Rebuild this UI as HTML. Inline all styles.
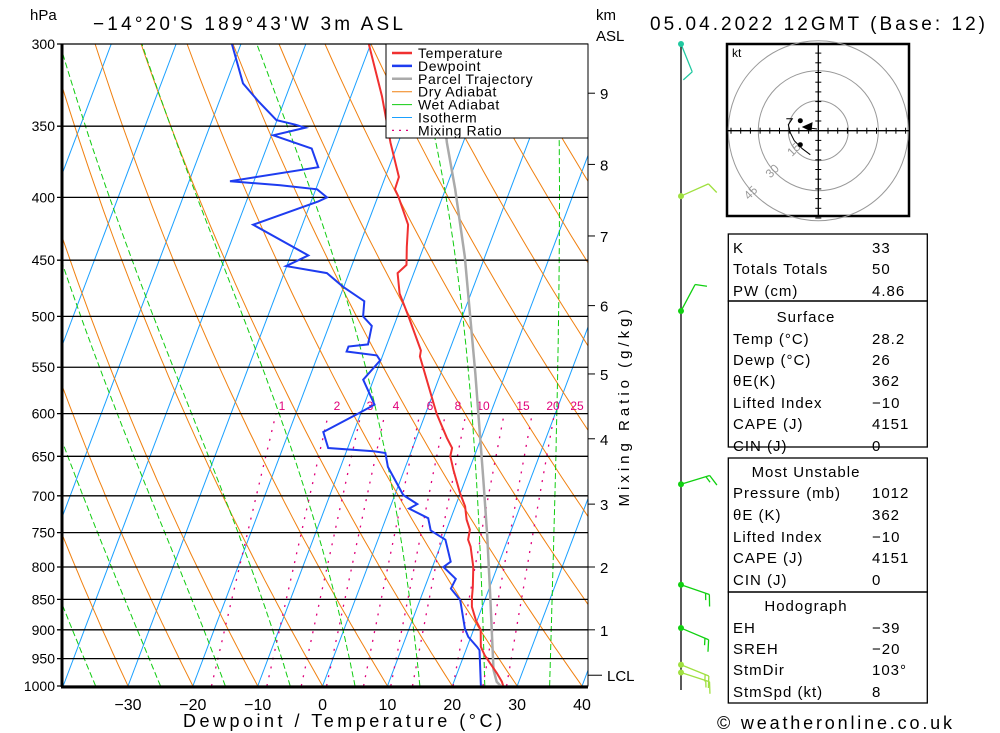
<!DOCTYPE html>
<html><head><meta charset="utf-8"><style>
html,body{margin:0;padding:0;background:#fff;}
svg{display:block;font-family:"Liberation Sans",sans-serif;}
.t{font-size:15px;fill:#000;letter-spacing:1px;}
</style></head><body>
<svg id="svg" width="1000" height="733" viewBox="0 0 1000 733" xmlns="http://www.w3.org/2000/svg">
<defs><clipPath id="pc"><rect x="62" y="44" width="526" height="642"/></clipPath></defs>
<g id="bg" clip-path="url(#pc)"></g>
<g id="grid"></g>
<g id="prof" clip-path="url(#pc)"></g>
<g>
<rect x="386" y="44" width="202" height="94" fill="#fff" stroke="#000" stroke-width="1"/>
<g id="leg"></g>
</g>
<rect x="62" y="44" width="526" height="642" fill="none" stroke="#000" stroke-width="1"/>
<line x1="62" y1="44" x2="62" y2="687" stroke="#000" stroke-width="3"/>
<line x1="61" y1="687" x2="588" y2="687" stroke="#000" stroke-width="3"/>
<text x="30" y="20" font-size="15">hPa</text>
<text x="93" y="30" font-size="19" textLength="310">−14°20'S 189°43'W 3m ASL</text>
<text x="650" y="30" font-size="19" textLength="335">05.04.2022 12GMT (Base: 12)</text>
<text x="596" y="20" font-size="15">km</text>
<text x="596" y="41" font-size="15">ASL</text>
<text x="183" y="727" font-size="18" textLength="319">Dewpoint / Temperature (°C)</text>
<text x="717" y="729" font-size="18" textLength="235">© weatheronline.co.uk</text>
<text transform="translate(629,408) rotate(-90)" text-anchor="middle" font-size="15" textLength="197">Mixing Ratio (g/kg)</text>
<g id="axes"></g>
<g id="wind"></g>
<g id="hodo"></g>
<g id="table"></g>
</svg>
<script>
const tempP=[1008,992,976,944,929,900,884,862,848,831,800,770,760,746,732,714,696,667,650,640,628,600,562,539,533,500,479,461,454,439,421,399,394,385,361,331,300];
const tempT=[28.3,27.4,26.1,23.2,22.1,21.1,19.8,18.4,17.9,17.4,16.3,14.7,13.9,13.6,12.5,11.5,9.9,7.6,6.3,6.1,4.7,1.7,-1.9,-4.2,-4.4,-8.3,-11.0,-12.5,-11.6,-12.6,-13.7,-16.9,-17.8,-17.9,-21.2,-25.2,-30.3];
const dewP=[1012,1000,935,929,912,898,851,833,818,800,792,760,747,730,717,711,699,663,646,644,640,621,599,590,563,543,538,534,529,527,509,500,486,473,461,455,446,421,403,400,394,391,388,378,365,356,351,349,346,334,323,300];
const dewT=[26.0,24.4,22.1,21.5,19.6,18.6,16.2,14.1,14.3,11.7,12.5,10.4,7.6,6.5,3.0,4.0,1.3,-2.7,-3.9,-5.8,-13.0,-14.7,-10.2,-8.4,-11.6,-10.1,-10.9,-15.8,-15.8,-12.9,-13.4,-15.3,-16.0,-20.1,-23.4,-30.1,-27.3,-37.6,-28.9,-27.8,-29.8,-35.7,-43.7,-30.9,-33.0,-39.7,-35.2,-36.9,-40.1,-44.0,-47.4,-51.4];
const parcelP=[1008,992,970,840,756,680,619,556,447,394,361,300];
const parcelT=[28.3,26.6,25.4,20.4,16.7,12.8,9.3,5.3,-3.1,-8.5,-12.5,-20.0];
const pLevels=[300,350,400,450,500,550,600,650,700,750,800,850,900,950,1000];
const tTicks=[-30,-20,-10,0,10,20,30,40];
const kmTicks=[9,8,7,6,5,4,3,2,1];
const kmP=[329,376,430,490,557,629,711,800,900];
const lclP=980;
const mixW=[1,2,3,4,6,8,10,15,20,25];
const mixLabelX=[282,337,370,396,430,458,483,523,553,577];
const barbP=[300,399,495,685,827,897,961,975];
const barbDir=[158,66,28,73,109,113,112,108];
const barbSpd=[10,10,10,15,15,15,15,15];
const barbCol=["#20c8a0","#a0e040","#10d010","#10d010","#10d010","#10d010","#a0e040","#a0e040"];
const hodoU=[-16,-13,-15,-14,-12,-8,-4];
const hodoV=[6,6,3,-1,-5,-9,-12];
const rows=[["K","33",247],["Totals Totals","50",268],["PW (cm)","4.86",290],["Surface","",316],["Temp (°C)","28.2",338],["Dewp (°C)","26",359],["θE(K)","362",380],["Lifted Index","−10",402],["CAPE (J)","4151",423],["CIN (J)","0",445],["Most Unstable","",471],["Pressure (mb)","1012",492],["θE (K)","362",514],["Lifted Index","−10",536],["CAPE (J)","4151",557],["CIN (J)","0",579],["Hodograph","",605],["EH","−39",627],["SREH","−20",648],["StmDir","103°",669],["StmSpd (kt)","8",691]];

const NS="http://www.w3.org/2000/svg";
function yP(p){return 44+Math.log(p/300)/Math.log(1000/300)*642;}
function xT(T,p){return 322.6+6.486*T+0.378*(686-yP(p));}
function mk(tag,at,par){const e=document.createElementNS(NS,tag);for(const k in at)e.setAttribute(k,at[k]);par.appendChild(e);return e;}
function pts(ps,ts){return ps.map((p,i)=>xT(ts[i],p).toFixed(1)+","+yP(p).toFixed(1)).join(" ");}
const bg=document.getElementById('bg');
for(let T=-120;T<=40;T+=10){const l=mk('line',{x1:xT(T,1000),y1:yP(1000),x2:xT(T,300),y2:yP(300),stroke:'#1aa0ff','stroke-width':1},bg);
}
const ps=[];for(let p=1000;p>=300;p-=10)ps.push(p);
for(let th=203.15;th<=503.15;th+=10){const ts=ps.map(p=>th*Math.pow(p/1000,0.286)-273.15);
const l=mk('polyline',{points:pts(ps,ts),fill:'none',stroke:'#f08010','stroke-width':1},bg);
}
function es(T){return 6.112*Math.exp(17.67*T/(T+243.5));}
for(let T0=-75;T0<=35;T0+=10){let T=T0;const pp=[],tt=[];
for(let p=1000;p>=300;p-=5){pp.push(p);tt.push(T);const Tk=T+273.15;const rs=0.622*es(T)/(p-es(T));
const g=(287*Tk+2.5e6*rs)/(1004+2.5e6*2.5e6*rs*0.622/(287*Tk*Tk))/p;T-=g*5;}
const l=mk('polyline',{points:pts(pp,tt),fill:'none',stroke:'#10cc10','stroke-width':1,'stroke-dasharray':'6,3'},bg);
}
mixW.forEach((w,i)=>{const pp=[],tt=[];for(let p=1000;p>=600;p-=10){const e=w*p/(622+w);const L=Math.log(e/6.112);pp.push(p);tt.push(243.5*L/(17.67-L));}
const l=mk('polyline',{points:pts(pp,tt),fill:'none',stroke:'#e0007a','stroke-width':1.3,'stroke-dasharray':'2,7'},bg);

const t=mk('text',{x:mixLabelX[i],y:410,'font-size':12,fill:'#e0007a','text-anchor':'middle'},bg);t.textContent=w;
});
const grid=document.getElementById('grid');
pLevels.forEach(p=>{const y=yP(p);const l=mk('line',{x1:57,y1:y,x2:588,y2:y,stroke:'#000','stroke-width':1.3},grid);

const t=mk('text',{x:55,y:y+5,'font-size':14,'text-anchor':'end'},grid);t.textContent=p;
});
const prof=document.getElementById('prof');
let l=mk('polyline',{points:pts(parcelP,parcelT),fill:'none',stroke:'#aaa','stroke-width':2.5},prof);

l=mk('polyline',{points:pts(tempP,tempT),fill:'none',stroke:'#f03030','stroke-width':2},prof);

l=mk('polyline',{points:pts(dewP,dewT),fill:'none',stroke:'#1e3cf0','stroke-width':2},prof);

const leg=document.getElementById('leg');
[["Temperature","#f03030",2.5,""],["Dewpoint","#1e3cf0",2.5,""],["Parcel Trajectory","#aaa",2.5,""],["Dry Adiabat","#f08010",1,""],["Wet Adiabat","#10cc10",1,""],["Isotherm","#1aa0ff",1,""],["Mixing Ratio","#e0007a",1.3,"2,5"]].forEach((it,i)=>{
const y=53+i*12.9;const ln=mk('line',{x1:392,y1:y,x2:412,y2:y,stroke:it[1],'stroke-width':it[2]},leg);if(it[3])ln.setAttribute('stroke-dasharray',it[3]);

const t=mk('text',{x:418,y:y+5,'font-size':14,'letter-spacing':'0.6'},leg);t.textContent=it[0];
});
const ax=document.getElementById('axes');
tTicks.forEach(T=>{const x=xT(T,1000);const t=mk('text',{x:x,y:710,'font-size':16,'text-anchor':'middle'},ax);t.textContent=(T<0?'−':'')+Math.abs(T);
});
kmTicks.forEach((k,i)=>{const y=yP(kmP[i]);const ln=mk('line',{x1:588,y1:y,x2:595,y2:y,stroke:'#000'},ax);

const t=mk('text',{x:600,y:y+6,'font-size':15},ax);t.textContent=k;});
{const y=yP(lclP);const ln=mk('line',{x1:588,y1:y,x2:602,y2:y,stroke:'#000'},ax);
const t=mk('text',{x:607,y:y+6,'font-size':15},ax);t.textContent='LCL';}
const wind=document.getElementById('wind');
let st=mk('line',{x1:681,y1:44,x2:681,y2:690,stroke:'#000','stroke-width':1.3},wind);

barbP.forEach((p,i)=>{const y=yP(p),x=681;const d=barbDir[i]*Math.PI/180;const ux=Math.sin(d),uy=-Math.cos(d);
const ex=x+30*ux,ey=y+30*uy;const a=70*Math.PI/180;const fx=ux*Math.cos(a)-uy*Math.sin(a),fy=ux*Math.sin(a)+uy*Math.cos(a);
let s='M'+x+','+y+' L'+ex+','+ey;let sp=barbSpd[i],k=0;
while(sp>=10){const bx=ex-k*4*ux,by=ey-k*4*uy;s+=' M'+bx+','+by+' l'+(12*fx)+','+(12*fy);sp-=10;k++;}
if(sp>=5){const bx=ex-k*4*ux,by=ey-k*4*uy;s+=' M'+bx+','+by+' l'+(7*fx)+','+(7*fy);}
const g=mk('path',{d:s,fill:'none',stroke:barbCol[i],'stroke-width':1.3},wind);

const c=mk('circle',{cx:x,cy:y,r:3,fill:barbCol[i]},wind);});
const ho=document.getElementById('hodo');const cx=818.3,cy=130.7,sc=2;
mk('rect',{x:727,y:44,width:182,height:172,fill:'#fff',stroke:'#000','stroke-width':2.5},ho);
[15,30,45].forEach(r=>{const c=mk('circle',{cx:cx,cy:cy,r:r*sc,fill:'none',stroke:'#999','stroke-width':1},ho);

const t=mk('text',{transform:'translate('+(cx-r*sc*0.72)+','+(cy+r*sc*0.72)+') rotate(-45)','font-size':12,fill:'#999','text-anchor':'middle'},ho);t.textContent=r;
});
mk('line',{x1:727,y1:cy,x2:909,y2:cy,stroke:'#000','stroke-width':1.3},ho);
mk('line',{x1:cx,y1:44,x2:cx,y2:216,stroke:'#000','stroke-width':1.3},ho);
for(let k=-9;k<=9;k++){if(!k)continue;mk('line',{x1:cx+k*9.7,y1:cy-3,x2:cx+k*9.7,y2:cy+3,stroke:'#000'},ho);mk('line',{x1:cx-3,y1:cy+k*9.7,x2:cx+3,y2:cy+k*9.7,stroke:'#000'},ho);}
let ht=mk('text',{x:732,y:57,'font-size':12},ho);ht.textContent='kt';
const hp=hodoU.map((u,i)=>(cx+u*sc)+','+(cy-hodoV[i]*sc)).join(' ');
l=mk('polyline',{points:hp,fill:'none',stroke:'#000','stroke-width':1},ho);
mk('circle',{cx:cx+hodoU[1]*sc+8,cy:cy-hodoV[1]*sc+2,r:2.5,fill:'#000'},ho);
mk('circle',{cx:cx+hodoU[3]*sc+10,cy:cy-hodoV[3]*sc+12,r:2.5,fill:'#000'},ho);
mk('path',{d:'M803,127 L812,123 L811,131 Z M810,128 L817,129',fill:'#000',stroke:'#000'},ho);
const tb=document.getElementById('table');
[[234,301],[301,447],[458,592],[592,703]].forEach(b=>{const r=mk('rect',{x:728.3,y:b[0],width:199,height:b[1]-b[0],fill:'none',stroke:'#000','stroke-width':1.3},tb);
});
rows.forEach(r=>{const hdr=r[1]==='';const t=mk('text',{x:hdr?806:733,y:r[2]+6,class:'t','text-anchor':hdr?'middle':'start'},tb);t.textContent=r[0];

if(!hdr){const v=mk('text',{x:872,y:r[2]+6,class:'t'},tb);v.textContent=r[1];}});
</script>
</body></html>
